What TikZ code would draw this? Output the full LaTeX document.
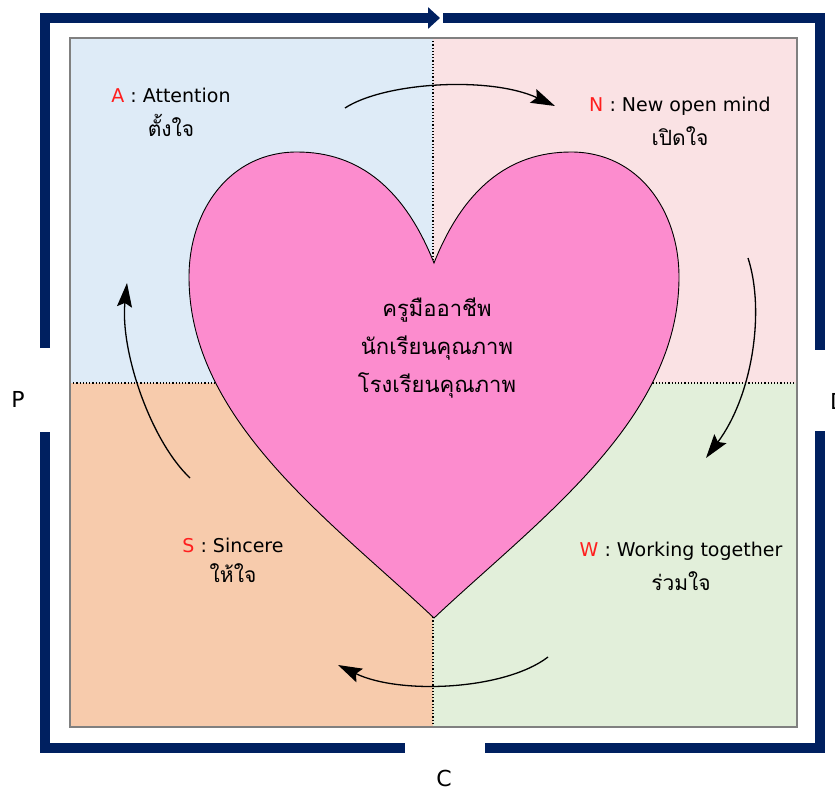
\documentclass[tikz,border=0pt]{standalone}
\usepackage{fontspec}
\setmainfont{DejaVu Sans}
\newfontfamily\thaifont[Script=Thai]{Loma}
\usetikzlibrary{arrows.meta,positioning}
\definecolor{bluei}{RGB}{222,235,247}
\definecolor{pinki}{RGB}{250,226,228}
\definecolor{orangei}{RGB}{247,203,172}
\definecolor{greeni}{RGB}{226,239,218}
\definecolor{navyi}{RGB}{0,32,96}
\definecolor{hearti}{RGB}{252,140,206}
\definecolor{redi}{RGB}{255,30,30}
\tikzset{
      myquad/.style={
        fill=#1,
        draw=none
      },
      mylabel/.style={
        font=\fontsize{19}{23}\selectfont,
        inner sep=1pt
      },
      mythai/.style={
        font=\thaifont\fontsize{21}{25}\selectfont,
        inner sep=1pt
      },
      mymotto/.style={
        font=\thaifont\fontsize{22}{38}\selectfont,
        align=center,
        inner sep=1pt
      },
      mycycle/.style={
        line width=1.3pt,
        -{Stealth[length=24pt,width=15pt,inset=4pt]}
      },
      myframe/.style={
        draw=navyi,
        line width=10pt,
        line join=miter
      },
      mydivider/.style={
        dotted,
        line width=1.2pt
      },
    }

\begin{document}
\begin{tikzpicture}[x=1pt,y=-1pt]
          \clip (0,0) rectangle (835,792);

          % quadrants
          \fill[myquad=bluei] (70,38) rectangle (433,383);
          \fill[myquad=pinki] (433,38) rectangle (797,383);
          \fill[myquad=orangei] (70,383) rectangle (433,727);
          \fill[myquad=greeni] (433,383) rectangle (797,727);
          \draw[mydivider] (433,38) -- (433,727);
          \draw[mydivider] (70,383) -- (797,383);
          \draw[gray,line width=1.5pt] (70,38) rectangle (797,727);

          % heart
          \draw[fill=hearti,line width=0.9pt]
            (434,263) .. controls (405,190) and (360,152) .. (297,152)
            .. controls (230,152) and (189,210) .. (189,277)
            .. controls (189,420) and (330,520) .. (434,618)
            .. controls (538,520) and (679,420) .. (679,277)
            .. controls (679,210) and (638,152) .. (571,152)
            .. controls (508,152) and (463,190) .. (434,263) -- cycle;

          % frame
          \draw[myframe,-{Triangle[length=12pt,width=21pt]}]
            (45,348) |- (440,18);
          \draw[myframe] (443,18) -| (820,350);
          \draw[myframe] (45,432) |- (405,748);
          \draw[myframe] (485,748) -| (820,431);

          % labels
          \node[mylabel] (atitle) at (171,95)
            {\textcolor{redi}{A} : Attention};
          \node[mythai,below=9pt of atitle] (athai)
            {ตั้งใจ};
          \node[mylabel] (ntitle) at (680,106)
            {\textcolor{redi}{N} : New open mind};
          \node[mythai,below=9pt of ntitle] (nthai)
            {เปิดใจ};
          \node[mylabel] (wtitle) at (681,551)
            {\textcolor{redi}{W} : Working together};
          \node[mythai,below=9pt of wtitle] (wthai)
            {ร่วมใจ};
          \node[mylabel] (stitle) at (233,545)
            {\textcolor{redi}{S} : Sincere};
          \node[mythai,below=9pt of stitle] (sthai)
            {ให้ใจ};
          \node[mymotto] (motto) at (437,348)
            {ครูมืออาชีพ\\นักเรียนคุณภาพ\\โรงเรียนคุณภาพ};

          \node[font=\fontsize{22}{26}\selectfont] (plabel) at (18,399) {P};
          \node[font=\fontsize{22}{26}\selectfont] (clabel) at (444,778) {C};
          \node[font=\fontsize{22}{26}\selectfont,anchor=west,inner sep=0pt] (dlabel) at (830,401) {D};

          % cycle
          \coordinate (a1) at (345,108);
          \coordinate (n1) at (555,106);
          \coordinate (n2) at (748,258);
          \coordinate (w1) at (706,458);
          \coordinate (w2) at (548,657);
          \coordinate (s1) at (338,665);
          \coordinate (s2) at (190,478);
          \coordinate (a2) at (127,283);
          \draw[mycycle] (a1) .. controls (385,82) and (490,76) .. (n1);
          \draw[mycycle] (n2) .. controls (765,310) and (753,395) .. (w1);
          \draw[mycycle] (w2) .. controls (505,690) and (400,695) .. (s1);
          \draw[mycycle] (s2) .. controls (150,440) and (120,350) .. (a2);
        \end{tikzpicture}
\end{document}
